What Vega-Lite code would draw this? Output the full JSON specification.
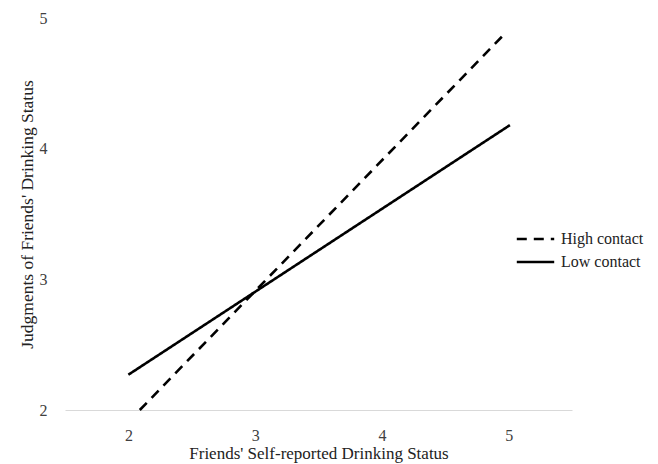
{
  "$schema": "https://vega.github.io/schema/vega-lite/v6.json",
  "width": 507,
  "height": 392,
  "autosize": "none",
  "padding": {"left": 65, "top": 18, "right": 86, "bottom": 54},
  "background": "white",
  "config": {
    "font": "Liberation Serif",
    "view": {"stroke": null},
    "axis": {"labelFont": "Liberation Serif", "titleFont": "Liberation Serif"},
    "legend": {"labelFont": "Liberation Serif", "titleFont": "Liberation Serif"}
  },
  "data": {
    "values": [
      {"x": 2.09, "y": 2.0, "group": "High contact"},
      {"x": 4.95, "y": 4.86, "group": "High contact"},
      {"x": 2.0, "y": 2.27, "group": "Low contact"},
      {"x": 5.01, "y": 4.18, "group": "Low contact"}
    ]
  },
  "mark": {"type": "line", "strokeWidth": 2.6, "color": "black", "clip": false},
  "encoding": {
    "x": {
      "field": "x", "type": "quantitative",
      "scale": {"domain": [1.5, 5.5], "nice": false, "zero": false},
      "axis": {
        "title": "Friends' Self-reported Drinking Status",
        "values": [2, 3, 4, 5],
        "grid": false, "ticks": false,
        "domainColor": "#d9d9d9", "domainWidth": 1,
        "labelFontSize": 16, "labelColor": "#404040", "labelPadding": 17,
        "titleFontSize": 17, "titleFontWeight": "normal", "titleColor": "#222222", "titlePadding": 2
      }
    },
    "y": {
      "field": "y", "type": "quantitative",
      "scale": {"domain": [2, 5], "nice": false, "zero": false},
      "axis": {
        "title": "Judgments of Friends' Drinking Status",
        "values": [2, 3, 4, 5],
        "grid": false, "ticks": false, "domain": false,
        "labelFontSize": 16, "labelColor": "#404040", "labelPadding": 18,
        "titleFontSize": 17.5, "titleFontWeight": "normal", "titleColor": "#222222", "titlePadding": 3
      }
    },
    "strokeDash": {
      "field": "group", "type": "nominal",
      "scale": {"domain": ["High contact", "Low contact"], "range": [[10, 7], [1, 0]]},
      "legend": {
        "title": null,
        "orient": "none",
        "legendX": 450,
        "legendY": 212,
        "symbolType": "stroke",
        "symbolSize": 1400,
        "symbolStrokeWidth": 2.6,
        "symbolStrokeColor": "black",
        "labelFontSize": 16,
        "labelColor": "#222222",
        "clipHeight": 18,
        "rowPadding": 5,
        "labelOffset": 5
      }
    }
  }
}
